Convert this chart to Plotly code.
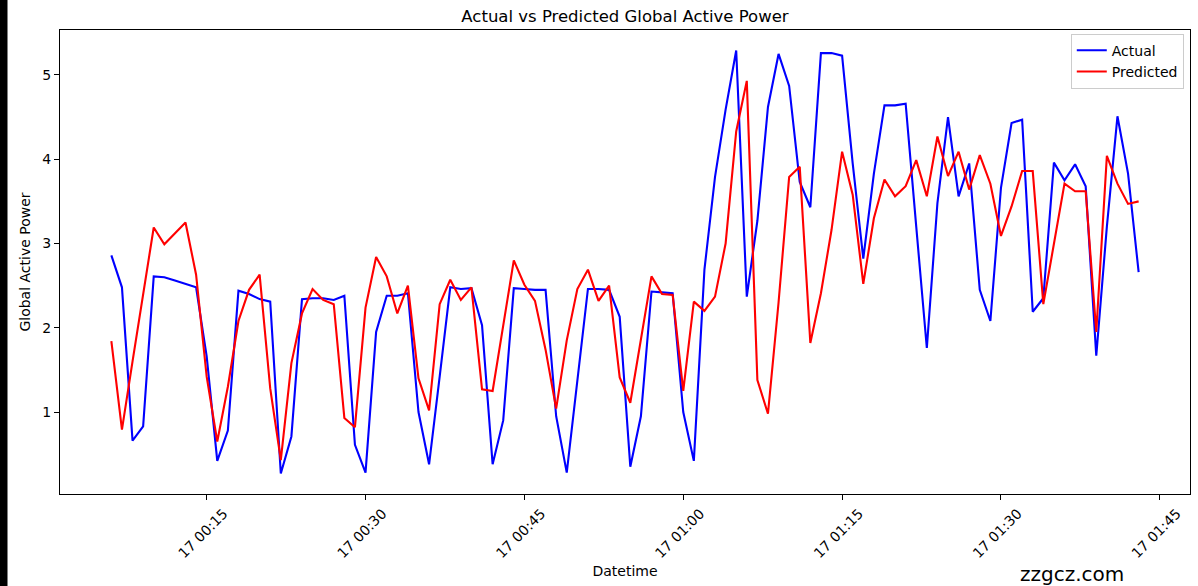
import pandas as pd
import plotly.graph_objects as go

start_time = "2006-12-17 00:06"
actual = [
    2.86, 2.48, 0.66, 0.83, 2.61, 2.60, 2.56, 2.52, 2.48, 1.66,
    0.42, 0.78, 2.44, 2.40, 2.34, 2.31, 0.27, 0.71, 2.34, 2.35,
    2.35, 2.33, 2.38, 0.61, 0.28, 1.95, 2.38, 2.38, 2.41, 1.00,
    0.38, 1.42, 2.48, 2.46, 2.47, 2.03, 0.38, 0.90, 2.47, 2.46,
    2.45, 2.45, 0.95, 0.28, 1.35, 2.46, 2.46, 2.45, 2.13, 0.35,
    0.95, 2.43, 2.42, 2.41, 1.00, 0.42, 2.69, 3.79, 4.59, 5.29,
    2.37, 3.27, 4.62, 5.25, 4.87, 3.73, 3.43, 5.26, 5.26, 5.23,
    3.95, 2.82, 3.83, 4.64, 4.64, 4.66, 3.20, 1.76, 3.48, 4.50,
    3.56, 3.95, 2.45, 2.08, 3.66, 4.43, 4.47, 2.19, 2.35, 3.96,
    3.75, 3.94, 3.68, 1.67, 3.20, 4.51, 3.83, 2.66,
]
predicted = [
    1.84, 0.79, 1.60, 2.40, 3.19, 2.99, 3.12, 3.25, 2.63, 1.42,
    0.65, 1.30, 2.08, 2.45, 2.63, 1.28, 0.43, 1.58, 2.17, 2.46,
    2.33, 2.28, 0.93, 0.82, 2.24, 2.84, 2.61, 2.17, 2.50, 1.40,
    1.02, 2.28, 2.57, 2.33, 2.48, 1.27, 1.25, 2.03, 2.80, 2.51,
    2.32, 1.74, 1.04, 1.85, 2.46, 2.69, 2.32, 2.50, 1.41, 1.11,
    1.86, 2.61, 2.40, 2.39, 1.25, 2.31, 2.20, 2.37, 3.00, 4.33,
    4.93, 1.38, 0.98, 2.30, 3.79, 3.91, 1.82, 2.41, 3.16, 4.09,
    3.58, 2.52, 3.30, 3.76, 3.56, 3.68, 3.99, 3.56, 4.27, 3.80,
    4.09, 3.64, 4.05, 3.71, 3.09, 3.44, 3.86, 3.86, 2.28, 3.00,
    3.71, 3.62, 3.62, 1.95, 4.04, 3.71, 3.47, 3.50,
]
times = pd.date_range(start_time, periods=len(actual), freq="min")

FONT = "DejaVu Sans"

fig = go.Figure()
fig.add_trace(go.Scatter(x=times, y=actual, mode="lines", name="Actual",
                         line=dict(color="#0000ff", width=2.1)))
fig.add_trace(go.Scatter(x=times, y=predicted, mode="lines", name="Predicted",
                         line=dict(color="#ff0000", width=2.1)))

span = times[-1] - times[0]
pad = span * 0.05
fig.update_layout(
    width=1198, height=586,
    margin=dict(l=60, r=8, t=30, b=92),
    paper_bgcolor="white", plot_bgcolor="white",
    font=dict(family=FONT, size=14, color="black"),
    title=dict(text="Actual vs Predicted Global Active Power", x=0.5217, xanchor="center",
               y=0.973, yanchor="middle", font=dict(size=16.5, color="black")),
    showlegend=True,
    legend=dict(x=0.9945, xanchor="right", y=0.992, yanchor="top",
                bgcolor="rgba(255,255,255,0.8)", bordercolor="#cccccc", borderwidth=1,
                font=dict(size=14), itemwidth=30, tracegroupgap=0),
    xaxis=dict(
        range=[times[0] - pad, times[-1] + pad],
        type="date", tick0="2006-12-17 00:00", dtick=15 * 60 * 1000,
        tickformat="%d %H:%M", tickangle=-45, ticklabelshift=17, ticklabelstandoff=0,
        showgrid=False, zeroline=False, showline=True, linecolor="black", linewidth=1,
        mirror=True, ticks="outside", ticklen=5, tickcolor="black",
        tickfont=dict(size=14, color="black"),
        title=dict(text="Datetime", font=dict(size=14), standoff=6),
    ),
    yaxis=dict(
        range=[0.027, 5.534], tickvals=[1, 2, 3, 4, 5],
        showgrid=False, zeroline=False, showline=True, linecolor="black", linewidth=1,
        mirror=True, ticks="outside", ticklen=5, tickcolor="black",
        tickfont=dict(size=14, color="black"),
        title=dict(text="Global Active Power", font=dict(size=14), standoff=8),
    ),
)

# black strip at the left edge of the picture
fig.add_shape(type="rect", xref="paper", yref="paper",
              x0=-61 / 1130, x1=-52.5 / 1130, y0=-93 / 464, y1=(464 + 31) / 464,
              fillcolor="black", line=dict(width=0), layer="above")

fig.add_annotation(text="zzgcz.com", xref="paper", yref="paper",
                   x=(1072 - 60) / 1130, y=-(574 - 494) / 464, xanchor="center", yanchor="middle",
                   showarrow=False, font=dict(size=20, color="black", family=FONT))

post = (
    "document.body.style.margin='0';document.body.style.padding='0';"
    "document.body.style.overflow='hidden';"
)
fig.write_html("out.html", config={"displayModeBar": False}, post_script=post)
